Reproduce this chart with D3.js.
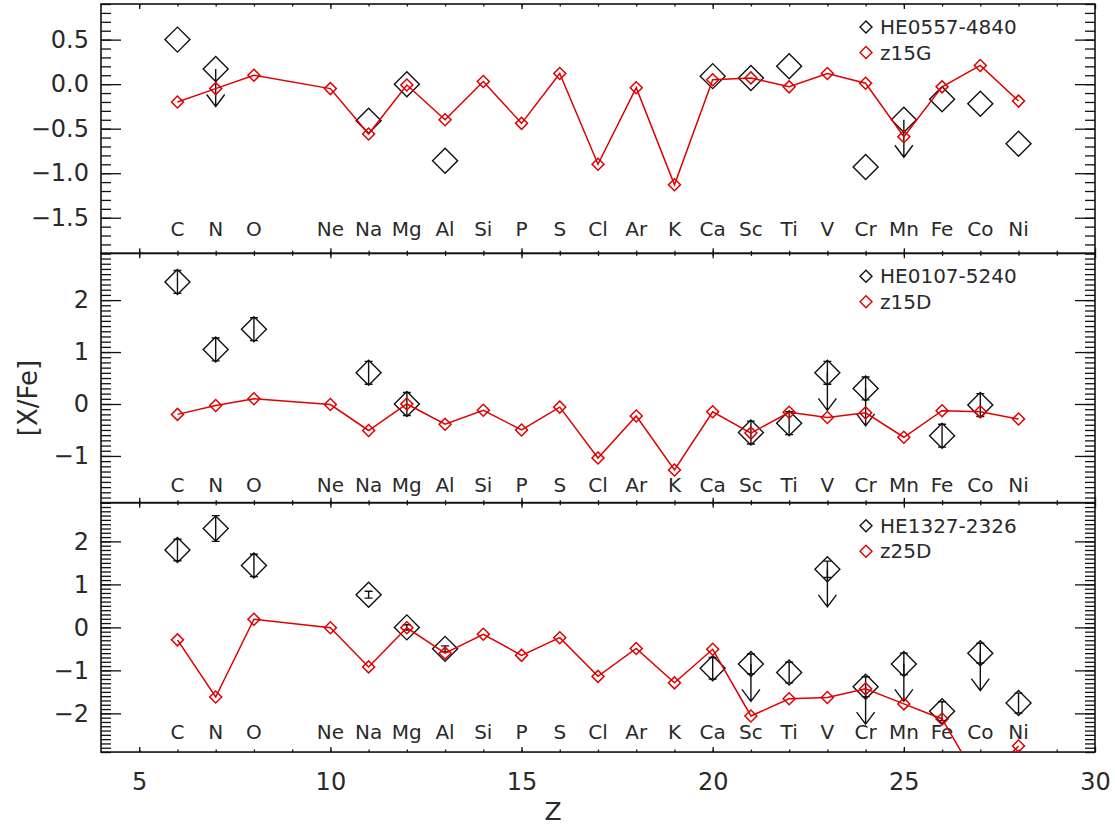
<!DOCTYPE html>
<html><head><meta charset="utf-8">
<script src="https://cdn.jsdelivr.net/npm/d3@7"></script>
<style>
body{margin:0;background:#fff;}
svg text{font-family:"DejaVu Sans","Liberation Sans",sans-serif;fill:#2a2a2a;}
</style></head><body>
<svg id="chart" width="1115" height="826"></svg>
<script>
// ---------------- data ----------------
const elementZ = [6,7,8,10,11,12,13,14,15,16,17,18,19,20,21,22,23,24,25,26,27,28];
const elementNames = ["C","N","O","Ne","Na","Mg","Al","Si","P","S","Cl","Ar","K","Ca","Sc","Ti","V","Cr","Mn","Fe","Co","Ni"];

// model yields [X/Fe] (one per element above)
const z15G = [-0.20,-0.05,0.10,-0.05,-0.56,-0.01,-0.40,0.03,-0.44,0.12,-0.90,-0.04,-1.13,0.05,0.07,-0.03,0.12,0.01,-0.59,-0.03,0.21,-0.19];
const z15D = [-0.20,-0.03,0.10,-0.01,-0.51,0.00,-0.39,-0.12,-0.50,-0.06,-1.04,-0.23,-1.27,-0.15,-0.56,-0.16,-0.26,-0.17,-0.64,-0.13,-0.15,-0.29];
const z25D = [-0.29,-1.62,0.19,-0.01,-0.92,-0.01,-0.60,-0.16,-0.65,-0.24,-1.14,-0.49,-1.29,-0.51,-2.06,-1.66,-1.63,-1.43,-1.78,-2.13,-3.65,-2.76];

// observed stars
const he0557Z     = [6,7,11,12,13,20,21,22,24,25,26,27,28];
const he0557Val   = [0.50,0.17,-0.41,0.00,-0.86,0.09,0.07,0.20,-0.93,-0.40,-0.17,-0.22,-0.67];
const he0557Err   = [0,0,0,0,0,0,0,0,0,0,0,0,0];
const he0557Limit = [false,true,false,false,false,false,false,false,false,true,false,false,false];

const he0107Z     = [6,7,8,11,12,21,22,23,24,26,27];
const he0107Val   = [2.35,1.05,1.44,0.60,0.00,-0.55,-0.37,0.60,0.30,-0.61,-0.02];
const he0107Err   = [0.22,0.22,0.22,0.22,0.22,0.22,0.22,0.22,0.22,0.22,0.22];
const he0107Limit = [false,false,false,false,false,false,false,true,true,false,false];

const he1327Z     = [6,7,8,11,12,13,20,21,22,23,24,25,26,27,28];
const he1327Val   = [1.80,2.30,1.44,0.76,0.00,-0.50,-0.95,-0.85,-1.05,1.35,-1.38,-0.85,-1.95,-0.60,-1.76];
const he1327Err   = [0.25,0.30,0.26,0.08,0.06,0.07,0.25,0.23,0.24,0.19,0.23,0.25,0.22,0.23,0.23];
const he1327Limit = [false,false,false,false,false,false,false,true,false,true,true,true,false,true,false];

const starNames  = ["HE0557-4840","HE0107-5240","HE1327-2326"];
const modelNames = ["z15G","z15D","z25D"];

const xTicks = [5,10,15,20,25,30];
const yTicksTop = [0.5,0.0,-0.5,-1.0,-1.5];
const yTicksMid = [2,1,0,-1];
const yTicksBot = [2,1,0,-1,-2];

// ---------------- layout ----------------
const W = 1115, H = 826;
const left = 101, right = 1095;
const top0 = 4, panelH = 249.35;
const RED = "#e00000", BLACK = "#111";
const svg = d3.select("#chart");

const x = d3.scaleLinear().domain([4,30]).range([left,right]);

const panels = [
  {domain:[-1.9,0.9], ticks:yTicksTop, fmt:d3.format(".1f"), model:z15G,
   obsZ:he0557Z, obsV:he0557Val, obsE:he0557Err, obsL:he0557Limit, labelY:-1.7},
  {domain:[-1.9,2.9], ticks:yTicksMid, fmt:d3.format("d"), model:z15D,
   obsZ:he0107Z, obsV:he0107Val, obsE:he0107Err, obsL:he0107Limit, labelY:-1.7},
  {domain:[-2.9,2.9], ticks:yTicksBot, fmt:d3.format("d"), model:z25D,
   obsZ:he1327Z, obsV:he1327Val, obsE:he1327Err, obsL:he1327Limit, labelY:-2.6}
];

const diamondBig = d3.symbol(d3.symbolSquare, 2*12.5*12.5)();
const diamondSmall = d3.symbol(d3.symbolSquare, 2*6*6)();

panels.forEach((p,i)=>{
  const pt = top0 + i*panelH, pb = pt + panelH;
  const y = d3.scaleLinear().domain(p.domain).range([pb,pt]);
  const g = svg.append("g");

  const clipId = "clip"+i;
  svg.append("clipPath").attr("id",clipId).append("rect")
    .attr("x",left).attr("y",pt).attr("width",right-left).attr("height",panelH);

  // minor y ticks every 0.1
  const minor = d3.range(Math.ceil(p.domain[0]*10), Math.floor(p.domain[1]*10)+1).map(v=>v/10);
  const axL = d3.axisLeft(y).tickValues(minor).tickSizeInner(-10).tickSizeOuter(0).tickFormat("");
  const axR = d3.axisRight(y).tickValues(minor).tickSizeInner(-10).tickSizeOuter(0).tickFormat("");
  g.append("g").attr("transform",`translate(${left},0)`).call(axL);
  g.append("g").attr("transform",`translate(${right},0)`).call(axR);
  // major y ticks
  const mL = d3.axisLeft(y).tickValues(p.ticks).tickSizeInner(-20).tickSizeOuter(0).tickPadding(12).tickFormat(p.fmt);
  const mR = d3.axisRight(y).tickValues(p.ticks).tickSizeInner(-20).tickSizeOuter(0).tickFormat("");
  g.append("g").attr("class","ylab").attr("transform",`translate(${left},0)`).call(mL);
  g.append("g").attr("transform",`translate(${right},0)`).call(mR);

  // x ticks top/bottom
  const xMinor = d3.range(5,30);
  [["B",pb],["T",pt]].forEach(([side,yy])=>{
    const mk = side==="B" ? d3.axisBottom : d3.axisTop;
    g.append("g").attr("transform",`translate(0,${yy})`)
      .call(mk(x).tickValues(xMinor).tickSizeInner(-2.5).tickSizeOuter(0).tickFormat(""));
    const maj = mk(x).tickValues(xTicks).tickSizeInner(-5).tickSizeOuter(0);
    if (side==="B" && i===2) maj.tickPadding(21); else maj.tickFormat("");
    g.append("g").attr("class", side==="B"&&i===2 ? "xlab":"").attr("transform",`translate(0,${yy})`).call(maj);
  });

  g.selectAll(".domain").remove();
  g.selectAll(".tick line").attr("stroke",BLACK).attr("stroke-width",1.3);
  g.selectAll(".ylab text, .xlab text").attr("font-size",24).attr("fill","#2a2a2a");

  // frame
  g.append("rect").attr("x",left).attr("y",pt).attr("width",right-left).attr("height",panelH)
    .attr("fill","none").attr("stroke",BLACK).attr("stroke-width",1.6);

  // element labels
  g.append("g").selectAll("text").data(elementNames).join("text")
    .attr("x",(d,k)=>x(elementZ[k])).attr("y",y(p.labelY))
    .attr("text-anchor","middle").attr("font-size",20).text(d=>d);

  // observed
  const obs = p.obsZ.map((z,k)=>({z, v:p.obsV[k], e:p.obsE[k], lim:p.obsL[k]}));
  const og = g.append("g").attr("stroke",BLACK).attr("stroke-width",1.4).attr("fill","none");
  og.selectAll("path.obs").data(obs).join("path").attr("class","obs")
    .attr("d",diamondBig)
    .attr("transform",d=>`translate(${x(d.z)},${y(d.v)}) rotate(45)`);
  const eb = obs.filter(d=>d.e>0);
  og.selectAll("path.err").data(eb).join("path").attr("class","err")
    .attr("d",d=>{
      const cx=x(d.z), y1=y(d.v+d.e), y2=y(d.v-d.e);
      return `M${cx},${y1}V${y2}M${cx-4},${y1}H${cx+4}M${cx-4},${y2}H${cx+4}`;
    });
  const lim = obs.filter(d=>d.lim);
  og.selectAll("path.lim").data(lim).join("path").attr("class","lim")
    .attr("d",d=>{
      const cx=x(d.z), y0=y(d.v), yt=y0+37.5;
      return `M${cx},${y0}V${yt}M${cx-9},${yt-12}L${cx},${yt}L${cx+9},${yt-12}`;
    });

  // model
  const mod = elementZ.map((z,k)=>({z, v:p.model[k]}));
  const line = d3.line().x(d=>x(d.z)).y(d=>y(d.v));
  g.append("path").datum(mod).attr("d",line).attr("fill","none")
    .attr("stroke",RED).attr("stroke-width",1.5).attr("clip-path",`url(#${clipId})`);
  g.append("g").attr("clip-path",`url(#${clipId})`).selectAll("path").data(mod).join("path")
    .attr("d",diamondSmall).attr("fill","none").attr("stroke",RED).attr("stroke-width",1.5)
    .attr("transform",d=>`translate(${x(d.z)},${y(d.v)}) rotate(45)`);

  // legend
  const lg = g.append("g");
  [[starNames[i],BLACK],[modelNames[i],RED]].forEach(([name,col],k)=>{
    const ly = pt + 23 + k*25.5;
    lg.append("path").attr("d",diamondSmall).attr("fill","none").attr("stroke",col).attr("stroke-width",1.4)
      .attr("transform",`translate(866,${ly}) rotate(45)`);
    lg.append("text").attr("x",880).attr("y",ly).attr("dy","0.35em").attr("font-size",20).text(name);
  });
});

// axis titles
svg.append("text").attr("x",553).attr("y",820).attr("text-anchor","middle").attr("font-size",25).text("Z");
svg.append("text").attr("transform","translate(37,398) rotate(-90)").attr("text-anchor","middle")
  .attr("font-size",26).text("[X/Fe]");
</script>
</body></html>
